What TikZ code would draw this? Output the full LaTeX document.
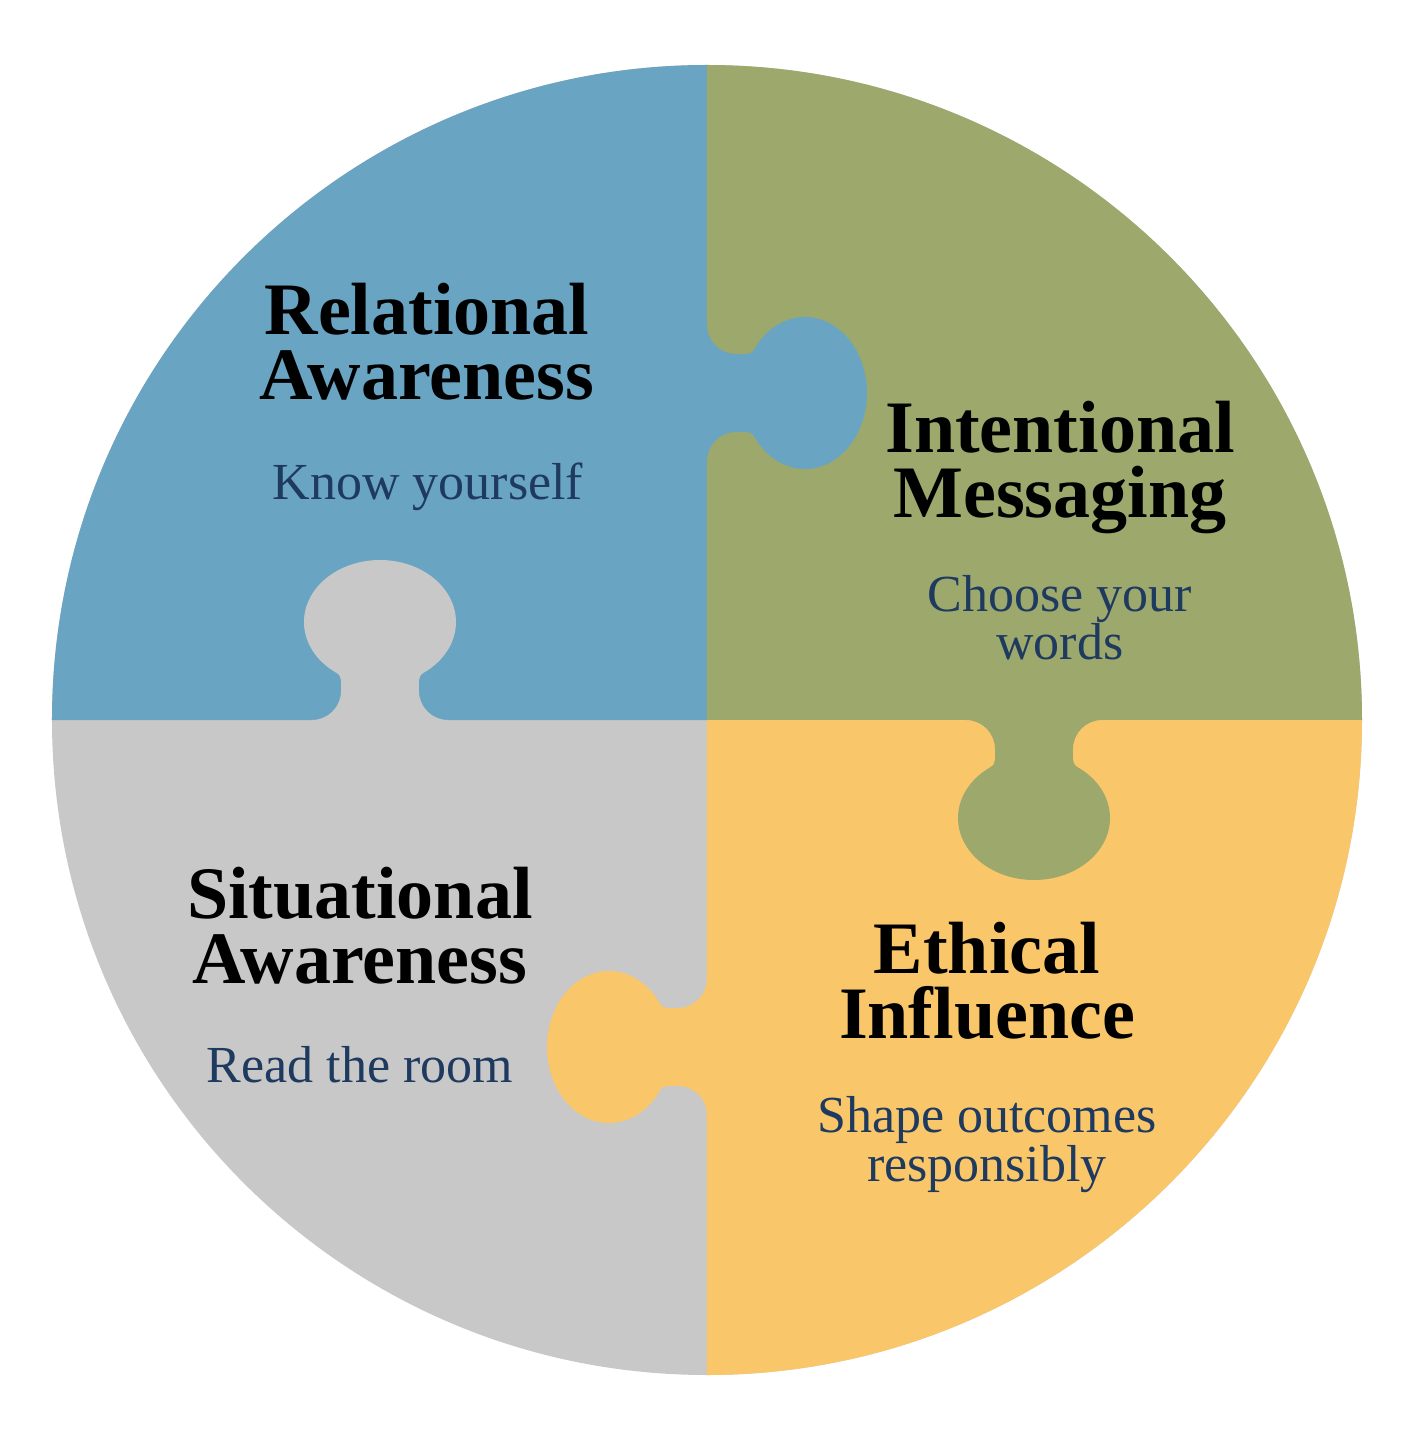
\documentclass[tikz,border=0pt]{standalone}
\usepackage{fontspec}
\setmainfont{Liberation Serif}
\usepackage{tikz}
\definecolor{pzblue}{RGB}{105,164,194}
\definecolor{pzgreen}{RGB}{157,168,108}
\definecolor{pzgray}{RGB}{200,200,200}
\definecolor{pzyellow}{RGB}{249,199,106}
\definecolor{pznavy}{RGB}{31,58,95}
% tab of a piece: #1 root on the edge, #2 rotation, #3 colour
\newcommand{\knob}[3]{%
\fill[#3, shift={#1}, rotate=#2] (-2,68) -- (0,68)
  arc[start angle=180, end angle=270, radius=29] to[out=0, in=240] (47.2,43.6)
  arc[start angle=145, end angle=-145, x radius=62, y radius=76]
  to[out=120, in=0] (29,-39) arc[start angle=90, end angle=180, radius=29]
  -- (-2,-68) -- cycle;}

\begin{document}
\begin{tikzpicture}[x=1pt, y=1pt,
  title/.style={anchor=base, align=center, font=\fontsize{74}{65}\selectfont\bfseries},
  subtitle/.style={anchor=base, align=center, text=pznavy, font=\fontsize{52}{45}\selectfont}]
\useasboundingbox (-707,-715) rectangle (707,720);
% the four pieces
\fill[pzgray] (0,0) circle[radius=655];
\fill[pzblue] (0,0) -- (-655,0) arc[start angle=180, end angle=90, radius=655] -- cycle;
\fill[pzgreen] (0,0) -- (0,655) arc[start angle=90, end angle=0, radius=655] -- cycle;
\fill[pzyellow] (0,0) -- (655,0) arc[start angle=0, end angle=-90, radius=655] -- cycle;
\knob{(0,327)}{0}{pzblue}
\knob{(-327,0)}{90}{pzgray}
\knob{(327,0)}{-90}{pzgreen}
\knob{(0,-327)}{180}{pzyellow}
% labels (base = last line)
\node[title] (relT) at (-280,320) {Relational\\Awareness};
\node[subtitle] (relS) at (-279,220) {Know yourself};
\node[title] (intT) at (353,202) {Intentional\\Messaging};
\node[subtitle] (intS) at (353,60) {Choose your\\words};
\node[title] (sitT) at (-347,-263) {Situational\\Awareness};
\node[subtitle] (sitS) at (-347,-362) {Read the room};
\node[title] (ethT) at (280,-318) {Ethical\\Influence};
\node[subtitle] (ethS) at (280,-461) {Shape outcomes\\responsibly};
\end{tikzpicture}
\end{document}
